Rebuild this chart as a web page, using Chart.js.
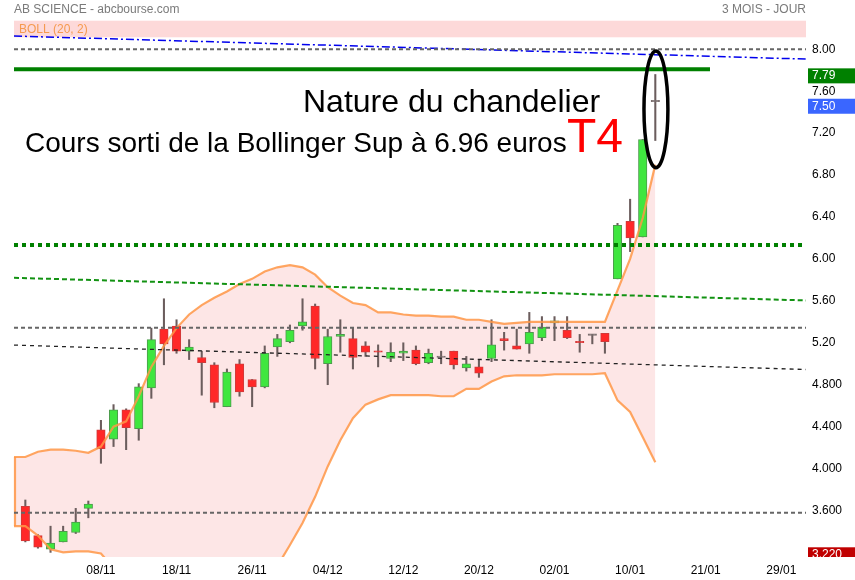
<!DOCTYPE html>
<html>
<head>
<meta charset="utf-8">
<script src="https://cdn.jsdelivr.net/npm/chart.js@4.4.1/dist/chart.umd.min.js"></script>
<style>
  html, body { margin: 0; padding: 0; background: #fff; }
  #grafico { display: block; }
</style>
</head>
<body>
<canvas id="grafico" width="855" height="580"></canvas>
<script>
/*********-datos (indice 0 = primera vela visible)-*********/
const APERTURA = [3.64, 3.36, 3.23, 3.30, 3.39, 3.62, 4.37, 4.28, 4.56, 4.38,
  4.77, 5.33, 5.36, 5.12, 5.06, 4.99, 4.59, 5.00, 4.85, 4.78,
  5.16, 5.21, 5.36, 5.55, 5.00, 5.26, 5.24, 5.17, 5.12, 5.05,
  5.10, 5.13, 5.01, 5.06, 5.12, 4.96, 4.97, 5.05, 5.24, 5.17,
  5.19, 5.25, 5.39, 5.32, 5.21, 5.27, 5.29, 5.81, 6.36, 6.21, 7.50];
const MAXIMO = [3.70, 3.37, 3.45, 3.45, 3.62, 3.69, 4.46, 4.61, 4.57, 4.81,
  5.34, 5.62, 5.42, 5.23, 5.12, 5.01, 4.95, 5.04, 4.85, 5.17,
  5.28, 5.37, 5.62, 5.57, 5.33, 5.42, 5.34, 5.21, 5.18, 5.20,
  5.20, 5.17, 5.14, 5.12, 5.12, 5.07, 5.04, 5.42, 5.30, 5.33,
  5.49, 5.45, 5.45, 5.45, 5.28, 5.28, 5.29, 6.34, 6.57, 7.14, 7.76];
const MINIMO = [3.30, 3.24, 3.20, 3.30, 3.38, 3.53, 4.05, 4.21, 4.18, 4.27,
  4.67, 4.99, 5.10, 5.04, 4.70, 4.58, 4.59, 4.69, 4.59, 4.77,
  5.07, 5.20, 5.32, 4.95, 4.80, 5.11, 4.95, 5.07, 4.97, 5.02,
  5.03, 4.99, 5.00, 5.00, 4.95, 4.93, 4.87, 5.02, 5.13, 5.14,
  5.10, 5.22, 5.22, 5.24, 5.11, 5.19, 5.10, 5.81, 6.07, 6.21, 7.13];
const CIERRE = [3.31, 3.25, 3.29, 3.40, 3.49, 3.66, 4.19, 4.56, 4.39, 4.78,
  5.23, 5.19, 5.12, 5.16, 5.01, 4.63, 4.92, 4.73, 4.78, 5.10,
  5.24, 5.32, 5.40, 5.05, 5.26, 5.28, 5.06, 5.11, 5.11, 5.11,
  5.12, 5.00, 5.10, 5.06, 4.99, 5.00, 4.91, 5.18, 5.22, 5.14,
  5.30, 5.35, 5.41, 5.25, 5.20, 5.27, 5.21, 6.32, 6.20, 7.14, 7.50];

// bandas de Bollinger (20, 2): empiezan un dia antes de la primera vela
const BOLL_SUP = [4.11, 4.11, 4.16, 4.18, 4.18, 4.17, 4.15, 4.21, 4.40, 4.45, 4.69,
  4.97, 5.17, 5.34, 5.47, 5.56, 5.63, 5.69, 5.76, 5.81, 5.88,
  5.92, 5.94, 5.92, 5.85, 5.73, 5.65, 5.58, 5.56, 5.49, 5.49,
  5.47, 5.46, 5.46, 5.45, 5.45, 5.42, 5.42, 5.40, 5.38, 5.39,
  5.40, 5.40, 5.40, 5.40, 5.40, 5.40, 5.40, 5.70, 6.00, 6.39, 6.90];
const BOLL_INF = [3.45, 3.45, 3.36, 3.23, 3.20, 3.21, 3.21, 3.19, 3.05, 2.98, 2.80,
  2.60, 2.45, 2.33, 2.25, 2.22, 2.24, 2.32, 2.45, 2.62, 2.85,
  3.07, 3.27, 3.48, 3.73, 4.02, 4.27, 4.48, 4.61, 4.66, 4.70,
  4.70, 4.70, 4.70, 4.69, 4.69, 4.76, 4.76, 4.83, 4.88, 4.89,
  4.89, 4.89, 4.90, 4.90, 4.90, 4.90, 4.91, 4.65, 4.54, 4.30, 4.06];

/*********-ejes-*********/
const X_TICKS = [6, 12, 18, 24, 30, 36, 42, 48, 54, 60];
const X_LABELS = ['08/11', '18/11', '26/11', '04/12', '12/12', '20/12', '02/01', '10/01', '21/01', '29/01'];
const Y_TICKS = [8.00, 7.60, 7.20, 6.80, 6.40, 6.00, 5.60, 5.20, 4.80, 4.40, 4.00, 3.60];
const X_MIN = -0.9, X_MAX = 61.96;
const Y_MIN = 3.156, Y_MAX = 8.28;

/*********-lineas trazadas (valor al borde izquierdo y al derecho)-*********/
const LINEA_AZUL = [8.127, 7.907];        // oblicua punto-raya
const LINEA_VERDE_OBL = [5.82, 5.604];    // oblicua verde
const LINEA_NEGRA_OBL = [5.178, 4.945];   // oblicua negra
const NIVEL_8 = 8.00;
const NIVEL_534 = 5.344;
const NIVEL_358 = 3.578;
const NIVEL_VERDE_PUNTOS = 6.133;
const NIVEL_VERDE = 7.81;
const FIN_NIVEL_VERDE = 54.34;            // indice donde acaba la linea verde

// etiquetas del eje de precios
const ETIQ_VALORES = [7.79, 7.50, 3.22];
//------------------------------------//

const FUENTE = "'Liberation Sans', Arial, sans-serif";
const NARANJA = 'rgba(255,150,70,0.85)';

function formato(v) {
  return v >= 5 ? v.toFixed(2) : v.toFixed(3);
}

function linea(xs, valores, color, ancho, dash) {
  return {
    type: 'line',
    data: xs.map((x, k) => ({ x: x, y: valores[k] })),
    borderColor: color,
    borderWidth: ancho,
    borderDash: dash,
    pointRadius: 0,
    fill: false,
    tension: 0,
    order: 0
  };
}

// velas
const velas = APERTURA.map((o, i) => ({ x: i, y: [o, CIERRE[i]] }));
const mechas = MAXIMO.map((h, i) => ({ x: i, y: [MINIMO[i], h] }));
const colorVela = APERTURA.map((o, i) => CIERRE[i] > o ? '#3fe63f' : (CIERRE[i] < o ? '#ff2828' : '#7a6e6e'));
const bordeVela = APERTURA.map((o, i) => CIERRE[i] > o ? '#4d9a4d' : (CIERRE[i] < o ? '#d03a3a' : '#7a6e6e'));

const datasets = [
  // lineas de referencia (encima)
  linea([X_MIN, X_MAX], [NIVEL_8, NIVEL_8], '#666666', 2, [4, 3]),
  linea([X_MIN, X_MAX], LINEA_AZUL, '#0000ee', 1.5, [8, 3, 2, 3]),
  linea([X_MIN, FIN_NIVEL_VERDE], [NIVEL_VERDE, NIVEL_VERDE], '#008000', 4, []),
  linea([X_MIN, X_MAX], [NIVEL_VERDE_PUNTOS, NIVEL_VERDE_PUNTOS], '#008000', 4, [4, 4]),
  linea([X_MIN, X_MAX], LINEA_VERDE_OBL, '#129212', 2, [5, 3]),
  linea([X_MIN, X_MAX], [NIVEL_534, NIVEL_534], '#666666', 2, [4, 3]),
  linea([X_MIN, X_MAX], LINEA_NEGRA_OBL, '#222222', 1.3, [4, 4]),
  linea([X_MIN, X_MAX], [NIVEL_358, NIVEL_358], '#666666', 2, [4, 3]),
  // bandas de Bollinger
  {
    type: 'line',
    data: BOLL_SUP.map((v, k) => ({ x: k - 1, y: v })),
    borderColor: NARANJA,
    borderWidth: 2.2,
    pointRadius: 0,
    tension: 0,
    fill: '+1',
    backgroundColor: '#fde6e6',
    clip: 0,
    order: 1
  },
  {
    type: 'line',
    data: BOLL_INF.map((v, k) => ({ x: k - 1, y: v })),
    borderColor: NARANJA,
    borderWidth: 2.2,
    pointRadius: 0,
    tension: 0,
    fill: false,
    clip: 0,
    order: 1
  },
  // cuerpos
  {
    type: 'bar',
    data: velas,
    backgroundColor: colorVela,
    borderColor: bordeVela,
    borderWidth: 1,
    borderSkipped: false,
    barThickness: 8.5,
    minBarLength: 1.5,
    grouped: false,
    order: 3
  },
  // mechas
  {
    type: 'bar',
    data: mechas,
    backgroundColor: '#6b5d5d',
    borderWidth: 0,
    barThickness: 1.4,
    grouped: false,
    order: 4
  }
];

/*********-plugin con textos y marcas a mano-*********/
const anotaciones = {
  id: 'anotaciones',
  beforeDatasetsDraw(chart) {
    const ctx = chart.ctx;
    const ca = chart.chartArea;
    const sy = chart.scales.y;
    ctx.save();
    ctx.fillStyle = '#fdd9d9';
    ctx.fillRect(ca.left, ca.top + 0.7, ca.right - ca.left, 16.6);
    ctx.font = '12px ' + FUENTE;
    ctx.fillStyle = '#f59a4f';
    ctx.textBaseline = 'alphabetic';
    ctx.fillText('BOLL (20, 2)', ca.left + 5, ca.top + 13);
    // borde izquierdo de la banda
    ctx.beginPath();
    ctx.moveTo(ca.left + 1, sy.getPixelForValue(BOLL_SUP[0]));
    ctx.lineTo(ca.left + 1, sy.getPixelForValue(BOLL_INF[0]));
    ctx.strokeStyle = NARANJA;
    ctx.lineWidth = 2.2;
    ctx.stroke();
    ctx.restore();
  },
  afterDraw(chart) {
    const ctx = chart.ctx;
    const ca = chart.chartArea;
    const sx = chart.scales.x;
    const sy = chart.scales.y;
    ctx.save();

    // cabecera
    ctx.font = '12px ' + FUENTE;
    ctx.fillStyle = '#7a7a7a';
    ctx.textBaseline = 'alphabetic';
    ctx.textAlign = 'left';
    ctx.fillText('AB SCIENCE - abcbourse.com', ca.left, 13);
    ctx.textAlign = 'right';
    ctx.fillText('3 MOIS - JOUR', ca.right, 13);

    // etiquetas de precio a la derecha
    ctx.save();
    ctx.beginPath();
    ctx.rect(0, 0, chart.width, ca.bottom);
    ctx.clip();
    const colores = ['#008000', '#3a66ff', '#c00000'];
    ETIQ_VALORES.forEach((v, k) => {
      const y = sy.getPixelForValue(v);
      ctx.fillStyle = colores[k];
      ctx.fillRect(ca.right + 2, y - 3, chart.width - ca.right - 2, 15);
      ctx.fillStyle = '#ffffff';
      ctx.textAlign = 'left';
      ctx.textBaseline = 'middle';
      ctx.fillText(formato(v), ca.right + 6, y + 4.5);
    });
    ctx.restore();

    // elipse alrededor de la ultima vela
    const cx = sx.getPixelForValue(50.05);
    const rx = sx.getPixelForValue(50.05 + 0.95) - cx;
    const yTop = sy.getPixelForValue(7.985);
    const yBot = sy.getPixelForValue(6.87);
    ctx.beginPath();
    ctx.ellipse(cx, (yTop + yBot) / 2, rx, (yBot - yTop) / 2, 0, 0, Math.PI * 2);
    ctx.lineWidth = 3.5;
    ctx.strokeStyle = '#000000';
    ctx.stroke();

    // textos
    ctx.textAlign = 'left';
    ctx.textBaseline = 'alphabetic';
    ctx.fillStyle = '#000000';
    ctx.font = '32px ' + FUENTE;
    ctx.fillText('Nature du chandelier', 303, 112);
    ctx.font = '28px ' + FUENTE;
    ctx.fillText('Cours sorti de la Bollinger Sup à 6.96 euros', 25, 152);
    ctx.fillStyle = '#ff0000';
    ctx.font = '48px ' + FUENTE;
    ctx.fillText('T4', 567, 152);
    ctx.restore();
  }
};

/*********-crear el grafico-*********/
const CTX = document.getElementById('grafico').getContext('2d');
new Chart(CTX, {
  type: 'bar',
  data: { datasets: datasets },
  options: {
    responsive: false,
    animation: false,
    events: [],
    layout: { padding: { left: 14, top: 20, right: 0, bottom: 0 } },
    plugins: {
      legend: { display: false },
      tooltip: { enabled: false },
      filler: { drawTime: 'beforeDatasetsDraw' }
    },
    scales: {
      x: {
        type: 'linear',
        min: X_MIN,
        max: X_MAX,
        offset: false,
        grid: { display: false, drawTicks: false },
        border: { display: false },
        afterBuildTicks: (scale) => { scale.ticks = X_TICKS.map(v => ({ value: v })); },
        afterFit: (scale) => { scale.height = 23; },
        ticks: {
          padding: 6,
          color: '#000',
          font: { size: 12, family: FUENTE },
          maxRotation: 0,
          autoSkip: false,
          callback: (v) => X_LABELS[X_TICKS.indexOf(v)]
        }
      },
      y: {
        type: 'linear',
        position: 'right',
        min: Y_MIN,
        max: Y_MAX,
        grid: { display: false, drawTicks: false },
        border: { display: false },
        afterBuildTicks: (scale) => { scale.ticks = Y_TICKS.map(v => ({ value: v })); },
        afterFit: (scale) => { scale.width = 49; },
        ticks: {
          padding: 6,
          color: '#000',
          font: { size: 12, family: FUENTE },
          autoSkip: false,
          callback: (v) => formato(v)
        }
      }
    }
  },
  plugins: [anotaciones]
});
</script>
</body>
</html>
